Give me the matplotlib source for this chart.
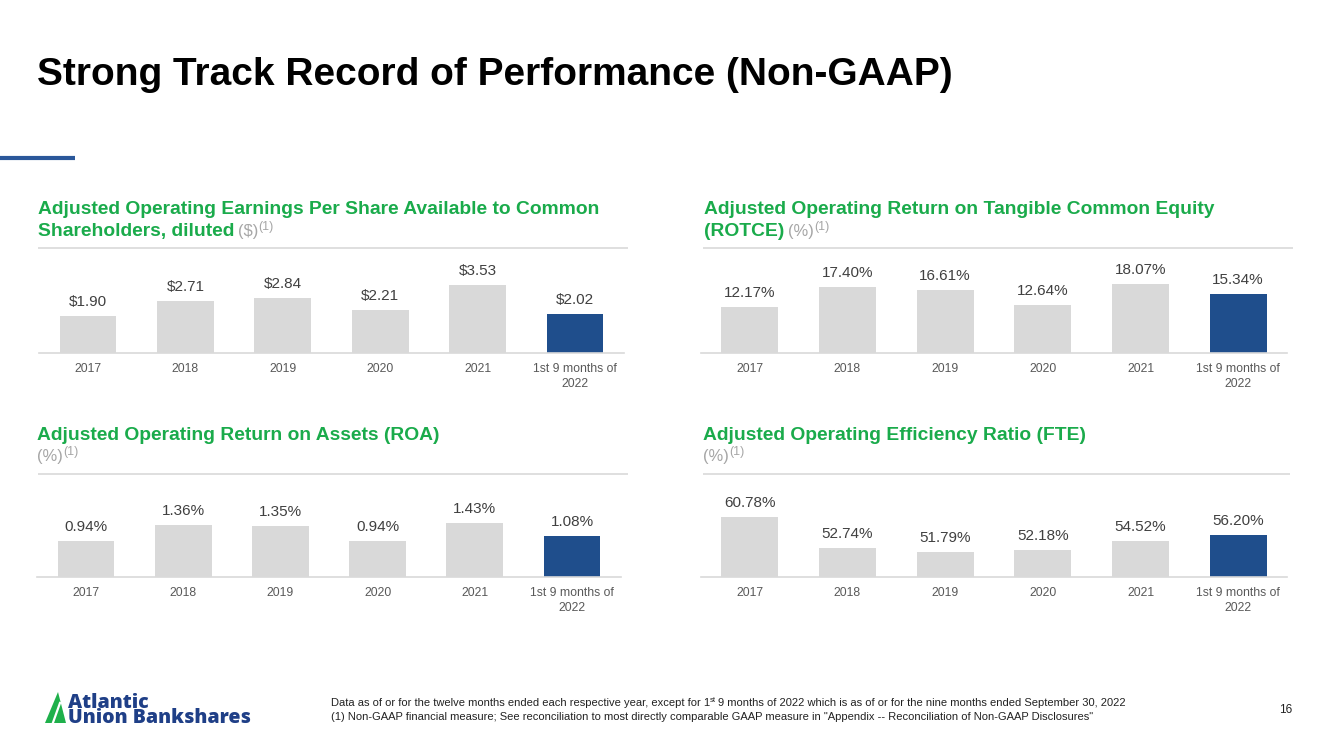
import matplotlib
matplotlib.use("Agg")
import matplotlib.pyplot as plt
from matplotlib.patches import Polygon
from matplotlib.lines import Line2D

W, H = 1333, 749
plt.rcParams['font.family'] = ['Liberation Sans', 'DejaVu Sans']

# ---------------- data ----------------
categories = ["2017", "2018", "2019", "2020", "2021", "1st 9 months of\n2022"]
eps_values = [1.90, 2.71, 2.84, 2.21, 3.53, 2.02]
rotce_values = [12.17, 17.40, 16.61, 12.64, 18.07, 15.34]
roa_values = [0.94, 1.36, 1.35, 0.94, 1.43, 1.08]
eff_values = [60.78, 52.74, 51.79, 52.18, 54.52, 56.20]

eps_labels = ["$1.90", "$2.71", "$2.84", "$2.21", "$3.53", "$2.02"]
rotce_labels = ["12.17%", "17.40%", "16.61%", "12.64%", "18.07%", "15.34%"]
roa_labels = ["0.94%", "1.36%", "1.35%", "0.94%", "1.43%", "1.08%"]
eff_labels = ["60.78%", "52.74%", "51.79%", "52.18%", "54.52%", "56.20%"]

GRAY_BAR = "#d9d9d9"
BLUE_BAR = "#1f4e8c"
GREEN = "#1aab4b"
LIGHT = "#a6a6a6"
VALCOL = "#404040"
TICKCOL = "#595959"
NAVY = "#1f3f87"

fig = plt.figure(figsize=(W / 100, H / 100), dpi=100)
fig.patch.set_facecolor("white")
renderer = fig.canvas.get_renderer()


def fx(x):
    return x / W


def fy(y):
    return 1 - y / H


def runs(x, y, parts):
    """Place a sequence of text runs on one baseline (pixel coords)."""
    for s, kw, dy, gap in parts:
        t = fig.text(fx(x), fy(y + dy), s, ha="left", va="baseline", **kw)
        bb = t.get_window_extent(renderer)
        x += bb.width + gap
    return x


def hline(x0, x1, y, color, lw):
    fig.add_artist(Line2D([fx(x0), fx(x1)], [fy(y), fy(y)], color=color,
                          lw=lw, transform=fig.transFigure, solid_capstyle="butt"))


# ---------------- title ----------------
fig.text(fx(37), fy(85), "Strong Track Record of Performance (Non-GAAP)",
         fontsize=28, fontweight="bold", color="black", ha="left", va="baseline")
hline(0, 75, 157.5, "#2a579a", 3.0)


# ---------------- panels ----------------
def panel(left, right, base, top, values, labels, ylim, highlight=5):
    ax = fig.add_axes([fx(left), fy(base), fx(right) - fx(left), (base - top) / H])
    x = list(range(len(values)))
    colors = [BLUE_BAR if i == highlight else GRAY_BAR for i in x]
    bars = ax.bar(x, [v - ylim[0] for v in values], bottom=ylim[0], width=0.585,
                  color=colors, zorder=2)
    ax.set_xlim(-0.5, len(values) - 0.5)
    ax.set_ylim(*ylim)
    for b, lab in zip(bars, labels):
        ax.annotate(lab, (b.get_x() + b.get_width() / 2, b.get_y() + b.get_height()),
                    xytext=(0, 7.2), textcoords="offset points", ha="center",
                    va="baseline", fontsize=11, color=VALCOL)
    ax.set_xticks(x)
    ax.set_xticklabels(categories, fontsize=8.8, color=TICKCOL, linespacing=1.3)
    ax.tick_params(axis="x", length=0, pad=7.5)
    ax.set_yticks([])
    for sp in ["top", "left", "right"]:
        ax.spines[sp].set_visible(False)
    ax.spines["bottom"].set_color(GRAY_BAR)
    ax.spines["bottom"].set_linewidth(1.2)
    ax.patch.set_alpha(0)
    return ax


panel(39.3, 623.7, 353, 253, eps_values, eps_labels, (0, 100 / 19.26))
panel(701.0, 1287.0, 353, 253, rotce_values, rotce_labels, (0, 100 / 3.82))
panel(37.4, 620.6, 577, 477, roa_values, roa_labels, (0, 100 / 38.0))
panel(701.0, 1287.0, 577, 477, eff_values, eff_labels, (45.2, 45.2 + 100 / 3.86))

# ---------------- panel titles ----------------
TS = 13.9
gk = dict(fontsize=TS, fontweight="bold", color=GREEN)
lk = dict(fontsize=TS - 2.0, color=LIGHT)
sk = dict(fontsize=TS - 5.0, color=LIGHT)

fig.text(fx(38), fy(214), "Adjusted Operating Earnings Per Share Available to Common",
         ha="left", va="baseline", **gk)
runs(38, 236, [("Shareholders, diluted", gk, 0, 4), ("($)", lk, 0, 0), ("(1)", sk, -6, 0)])

fig.text(fx(704), fy(214), "Adjusted Operating Return on Tangible Common Equity",
         ha="left", va="baseline", **gk)
runs(704, 236, [("(ROTCE)", gk, 0, 4), ("(%)", lk, 0, 0), ("(1)", sk, -6, 0)])

fig.text(fx(37), fy(440), "Adjusted Operating Return on Assets (ROA)",
         ha="left", va="baseline", **gk)
runs(37, 461, [("(%)", lk, 0, 0), ("(1)", sk, -6, 0)])

fig.text(fx(703), fy(440), "Adjusted Operating Efficiency Ratio (FTE)",
         ha="left", va="baseline", **gk)
runs(703, 461, [("(%)", lk, 0, 0), ("(1)", sk, -6, 0)])

hline(38, 628, 248, "#d9d9d9", 1.2)
hline(703, 1293, 248, "#d9d9d9", 1.2)
hline(38, 628, 474, "#d9d9d9", 1.2)
hline(703, 1290, 474, "#d9d9d9", 1.2)

# ---------------- footer ----------------
fk = dict(fontsize=8.0, color="#222222")
fsk = dict(fontsize=5.5, color="#222222")
runs(331, 706, [("Data as of or for the twelve months ended each respective year, except for 1", fk, 0, 0),
                ("st", fsk, -3.5, 2.0),
                ("9 months of 2022 which is as of or for the nine months ended September 30, 2022", fk, 0, 0)])
fig.text(fx(331), fy(720),
         '(1) Non-GAAP financial measure; See reconciliation to most directly comparable GAAP measure in "Appendix -- Reconciliation of Non-GAAP Disclosures"',
         ha="left", va="baseline", **fk)
fig.text(fx(1286), fy(713), "16", ha="center", va="baseline", fontsize=8.5, color="#222222")

# ---------------- logo ----------------
tri = Polygon([(fx(45), fy(723)), (fx(58), fy(692)), (fx(66), fy(723))],
              closed=True, transform=fig.transFigure, facecolor="#1fb04b", edgecolor="none")
fig.add_artist(tri)
fig.add_artist(Line2D([fx(52.5), fx(60)], [fy(724), fy(703)], color="white", lw=1.6,
                      transform=fig.transFigure))
fig.text(fx(68), fy(723), "Atlantic\nUnion Bankshares", fontsize=14.0, fontweight="heavy",
         family=["Open Sans", "Liberation Sans"], color=NAVY, ha="left", va="baseline",
         linespacing=0.66, multialignment="left")

fig.savefig("out.png", dpi=100, facecolor="white")
